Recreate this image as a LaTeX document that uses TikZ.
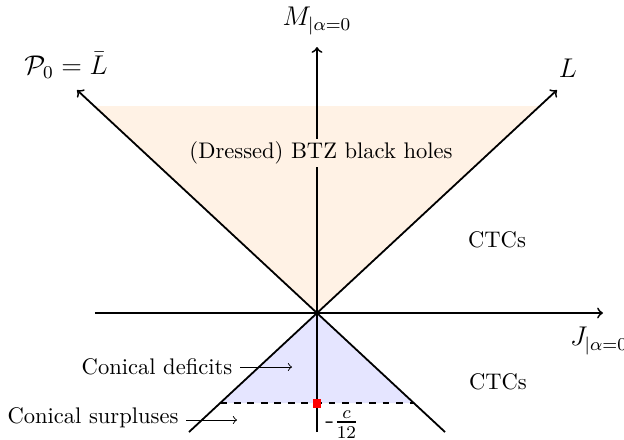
\documentclass[tikz,border=0pt]{standalone}
\usepackage{tikz}
\usetikzlibrary{arrows.meta}
\usepackage{amsmath}
\usepackage{amssymb}

\begin{document}
\begin{tikzpicture}[x=0.623cm, y=0.623cm, >=to,
  axislabel/.style={font=\large}]
\useasboundingbox (-7.925,-3.15) rectangle (7.675,7.825);

% points
\coordinate (O) at (0,0);
\coordinate (Jstart) at (-5.55,0);
\coordinate (Jend) at (7.15,0);
\coordinate (Mbot) at (0,-2.975);
\coordinate (Mtop) at (0,6.65);
\coordinate (Lbarend) at (-6,5.575);
\coordinate (Lend) at (6,5.575);
\coordinate (Lbarbot) at (3.2,-2.975);
\coordinate (Lbot) at (-3.2,-2.975);

% regions
\fill[orange!10] (O) -- (-5.565,5.175) -- (5.565,5.175) -- cycle;
\fill[blue!10] (O) -- (-2.42,-2.25) -- (2.42,-2.25) -- cycle;
\draw[thick, dashed] (-2.42,-2.25) -- (2.42,-2.25);

% axes and light cone
\draw[->, thick] (Jstart) -- (Jend);
\draw[->, thick] (Mbot) -- (Mtop);
\draw[->, thick] (Lbarbot) -- (Lbarend);
\draw[->, thick] (Lbot) -- (Lend);

\node[axislabel] (Mlab) at (0,7.3) {$M_{|\alpha=0}$};
\node[axislabel] (Jlab) at (7.05,-0.7) {$J_{|\alpha=0}$};
\node[axislabel] (Lbarlab) at (-6.275,6.2) {$\mathcal{P}_0=\bar{L}$};
\node[axislabel] (Llab) at (6.275,6.125) {$L$};

% regions labels
\node[fill=orange!10, inner sep=1pt] (btz) at (0.1,4.0) {(Dressed) BTZ black holes};
\node (ctcup) at (4.5,1.825) {CTCs};
\node (ctcdown) at (4.525,-1.725) {CTCs};

% bottom of the spectrum
\node[fill=red, minimum size=0.14cm, inner sep=0pt] (cpt) at (0,-2.25) {};
\node[axislabel] (cval) at (0.625,-2.78) {-$\frac{c}{12}$};

\node (deficits) at (-4.0,-1.35) {Conical deficits};
\coordinate (defpt) at (-0.625,-1.35);
\draw[->] (deficits) -- (defpt);
\node (surplus) at (-5.6,-2.625) {Conical surpluses};
\coordinate (surpt) at (-2.0,-2.675);
\draw[->] (surplus.east |- surpt) -- (surpt);

\end{tikzpicture}
\end{document}
